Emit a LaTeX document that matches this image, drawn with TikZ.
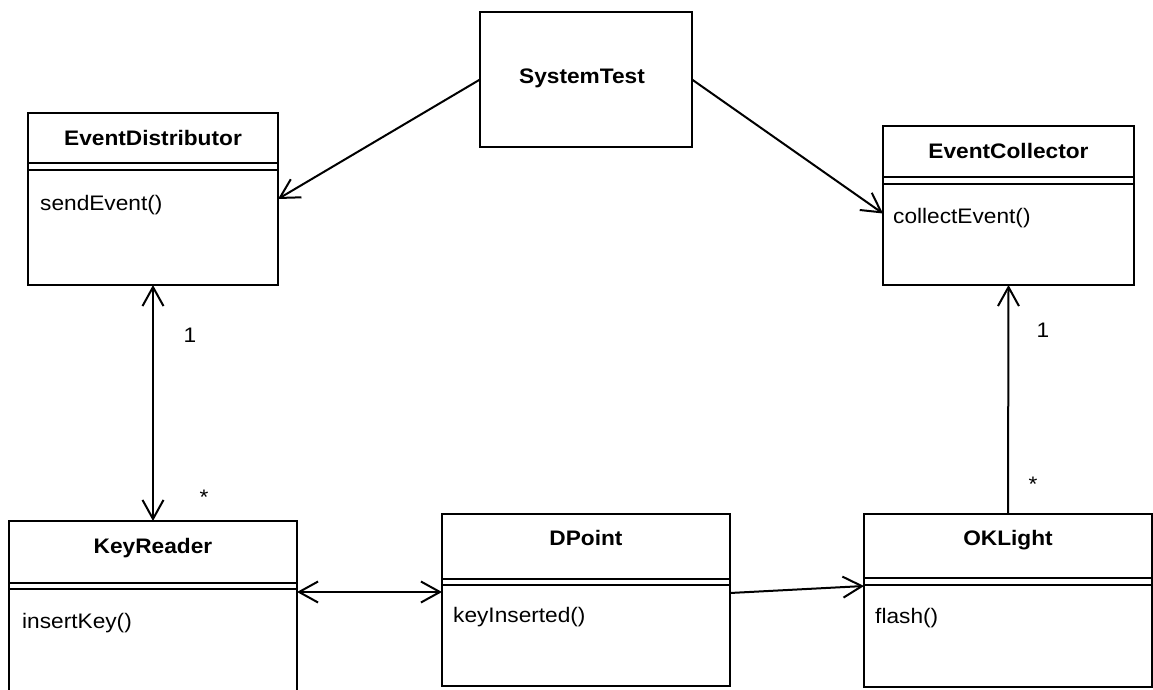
\documentclass[tikz,border=0pt]{standalone}
\usepackage{fontspec}
\setmainfont{Liberation Sans}[FakeStretch=1.08]
\usetikzlibrary{arrows.meta,calc}

\begin{document}
\begin{tikzpicture}[x=1pt,y=-1pt,
  box/.style={draw, line width=2pt, outer sep=0pt, inner sep=0pt, anchor=north west},
  rule/.style={line width=2pt},
  title/.style={font=\fontsize{21}{25}\selectfont\bfseries, anchor=base, inner sep=0pt},
  meth/.style={font=\fontsize{21}{25}\selectfont, anchor=base west, inner sep=0pt},
  mult/.style={font=\fontsize{21}{25}\selectfont, inner sep=0pt},
  assoc/.style={line width=2pt, -{Straight Barb[length=19pt,width=21pt]}},
  both/.style={line width=2pt, {Straight Barb[length=19pt,width=21pt]}-{Straight Barb[length=19pt,width=21pt]}}
]
\useasboundingbox (0,0) rectangle (1153,690);
\clip (0,0) rectangle (1153,690);

% classes
\node[box, minimum width=212, minimum height=135] (st) at (480,12) {};
\node[box, minimum width=250, minimum height=172] (ed) at (28,113) {};
\node[box, minimum width=251, minimum height=159] (ec) at (883,126) {};
\node[box, minimum width=288, minimum height=200] (kr) at (9,521) {};
\node[box, minimum width=288, minimum height=172] (dp) at (442,514) {};
\node[box, minimum width=288, minimum height=173] (ok) at (864,514) {};

% compartment rules (double line under each name)
\foreach \c/\a/\b in {ed/50/57, ec/51/58, kr/62/68, dp/65/71, ok/64/71}{
  \draw[rule] ([yshift=-\a]\c.north west) -- ([yshift=-\a]\c.north east);
  \draw[rule] ([yshift=-\b]\c.north west) -- ([yshift=-\b]\c.north east);
}

% names
\node[title] (stt) at ([xshift=-4,yshift=-72]st.north) {SystemTest};
\node[title] (edt) at ([yshift=-32]ed.north) {EventDistributor};
\node[title] (ect) at ([yshift=-32]ec.north) {EventCollector};
\node[title] (krt) at ([yshift=-32]kr.north) {KeyReader};
\node[title] (dpt) at ([yshift=-31]dp.north) {DPoint};
\node[title] (okt) at ([yshift=-31]ok.north) {OKLight};

% operations
\node[meth] (edm) at ([xshift=12,yshift=-97]ed.north west) {sendEvent()};
\node[meth] (ecm) at ([xshift=10,yshift=-97]ec.north west) {collectEvent()};
\node[meth] (krm) at ([xshift=13,yshift=-107]kr.north west) {insertKey()};
\node[meth] (dpm) at ([xshift=11,yshift=-108]dp.north west) {keyInserted()};
\node[meth] (okm) at ([xshift=11,yshift=-109]ok.north west) {flash()};

% associations
\draw[assoc] (st.west) -- (ed.east);
\draw[assoc] (st.east) -- ([yshift=-8]ec.west);
\draw[both] (ed.south) -- (kr.north);
\draw[assoc] (ok.north) -- (ec.south);
\draw[both] ([yshift=-71]kr.north east) -- ([yshift=-78]dp.north west);
\draw[assoc] ([yshift=-79]dp.north east) -- ([yshift=-72]ok.north west);

% multiplicities
\node[mult] (m1) at (190,335) {1};
\node[mult] (m2) at (204,497) {*};
\node[mult] (m3) at (1043,330) {1};
\node[mult] (m4) at (1033,484) {*};
\end{tikzpicture}
\end{document}
